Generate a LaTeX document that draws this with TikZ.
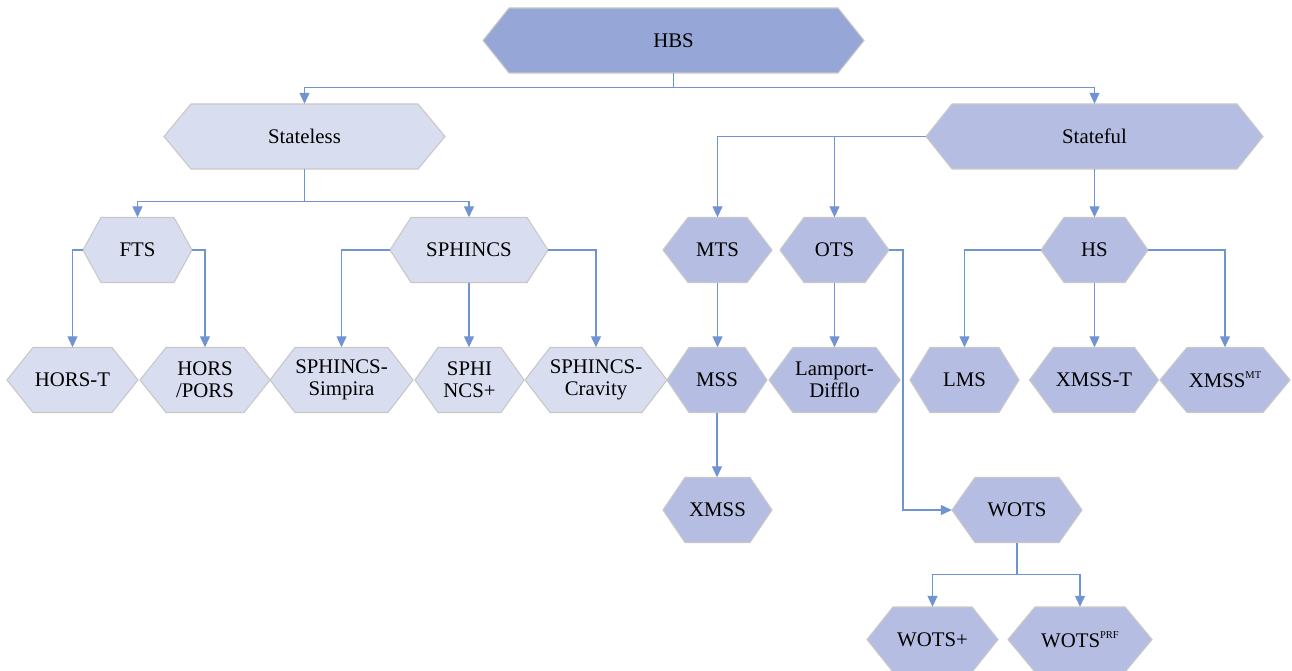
\documentclass[tikz,border=0pt]{standalone}
\usepackage{fontspec}
\setmainfont{Liberation Serif}
\usetikzlibrary{arrows.meta}

\definecolor{topfill}{RGB}{150,166,214}
\definecolor{lightfill}{RGB}{217,221,240}
\definecolor{midfill}{RGB}{181,190,226}
\definecolor{edgegray}{RGB}{200,200,200}
\definecolor{linkblue}{RGB}{112,148,210}

% hexagon with pointed left/right ends and a named node over it
% #1 name, #2 centre x, #3 centre y, #4 width, #5 corner inset, #6 fill, #7 text
\newcommand{\hexbox}[7]{%
  \path[draw=edgegray, line width=1.1pt, fill=#6]
    (#2-#4/2,#3) -- (#2-#4/2+#5,#3-32.5) -- (#2+#4/2-#5,#3-32.5)
    -- (#2+#4/2,#3) -- (#2+#4/2-#5,#3+32.5) -- (#2-#4/2+#5,#3+32.5) -- cycle;
  \node[hextext, minimum width=#4] (#1) at (#2,#3) {#7};
}
\newcommand{\supsmall}[1]{\raisebox{9pt}{\fontsize{10.5}{10.5}\selectfont #1}}

\tikzset{
  hextext/.style={inner sep=0pt, minimum height=65, align=center,
    font=\fontsize{20.8}{22}\selectfont},
  link/.style={draw=linkblue, line width=1.2pt,
    -{Triangle[length=11pt, width=10pt]}},
  plainlink/.style={draw=linkblue, line width=1.2pt},
}

\begin{document}
\begin{tikzpicture}[x=1pt, y=-1pt]
\useasboundingbox (0,0) rectangle (1292,671);

% root and the two families
\hexbox{hbs}{673.5}{40.5}{381}{26}{topfill}{HBS}
\hexbox{stateless}{304.5}{136.5}{281}{27}{lightfill}{Stateless}
\hexbox{stateful}{1094.5}{136.5}{337}{26}{midfill}{Stateful}

% second level
\hexbox{fts}{137.5}{250}{109}{18}{lightfill}{FTS}
\hexbox{sphincs}{469}{250}{158}{21}{lightfill}{SPHINCS}
\hexbox{mts}{717.5}{250}{109}{25}{midfill}{MTS}
\hexbox{ots}{834.5}{250}{109}{24}{midfill}{OTS}
\hexbox{hs}{1094.5}{250}{107}{23}{midfill}{HS}

% third level
\hexbox{horst}{72.5}{380}{131}{26}{lightfill}{HORS-T}
\hexbox{horspors}{205}{380}{130}{26}{lightfill}{HORS\\/PORS}
\hexbox{simpira}{341.5}{380}{143}{25}{lightfill}{SPHINCS-\\Simpira}
\hexbox{sphplus}{469.5}{380}{109}{23}{lightfill}{SPHI\\NCS+}
\hexbox{cravity}{596}{380}{142}{25}{lightfill}{SPHINCS-\\Cravity}
\hexbox{mss}{717}{380}{100}{22}{midfill}{MSS}
\hexbox{lamport}{834.5}{380}{131}{24}{midfill}{Lamport-\\Difflo}
\hexbox{lms}{964.5}{380}{109}{20}{midfill}{LMS}
\hexbox{xmsst}{1094}{380}{129}{24}{midfill}{XMSS-T}
\hexbox{xmssmt}{1225}{380}{130}{27}{midfill}{XMSS\supsmall{MT}}

% fourth and fifth levels
\hexbox{xmss}{717.5}{510}{109}{22}{midfill}{XMSS}
\hexbox{wots}{1017}{510}{130}{23}{midfill}{WOTS}
\hexbox{wotsplus}{932.5}{639.5}{131}{26}{midfill}{WOTS+}
\hexbox{wotsprf}{1080}{639.5}{144}{27}{midfill}{WOTS\supsmall{PRF}}

% connectors
\draw[link] (hbs.south) -- ++(0,14) -| (stateless.north);
\draw[link] (hbs.south) -- ++(0,14) -| (stateful.north);

\draw[link] (stateless.south) -- ++(0,32) -| (fts.north);
\draw[link] (stateless.south) -- ++(0,32) -| (sphincs.north);

\draw[link] (stateful.west) -| (mts.north);
\draw[link] (stateful.west) -| (ots.north);
\draw[link] (stateful.south) -- (hs.north);

\draw[link] (fts.west) -| (horst.north);
\draw[link] (fts.east) -| (horspors.north);
\draw[link] (sphincs.west) -| (simpira.north);
\draw[link] (sphincs.south) -- (sphincs.south |- sphplus.north);
\draw[link] (sphincs.east) -| (cravity.north);

\draw[link] (mts.south) -- (mts.south |- mss.north);
\draw[link] (mss.south) -- (mss.south |- xmss.north);
\draw[link] (ots.south) -- (lamport.north);
\coordinate (otsbend) at (903,250);
\draw[link] (ots.east) -- (otsbend) |- (wots.west);

\draw[link] (hs.west) -| (lms.north);
\draw[link] (hs.south) -- (hs.south |- xmsst.north);
\draw[link] (hs.east) -| (xmssmt.north);

\draw[link] (wots.south) -- ++(0,32) -| (wotsplus.north);
\draw[link] (wots.south) -- ++(0,32) -| (wotsprf.north);
\end{tikzpicture}
\end{document}
